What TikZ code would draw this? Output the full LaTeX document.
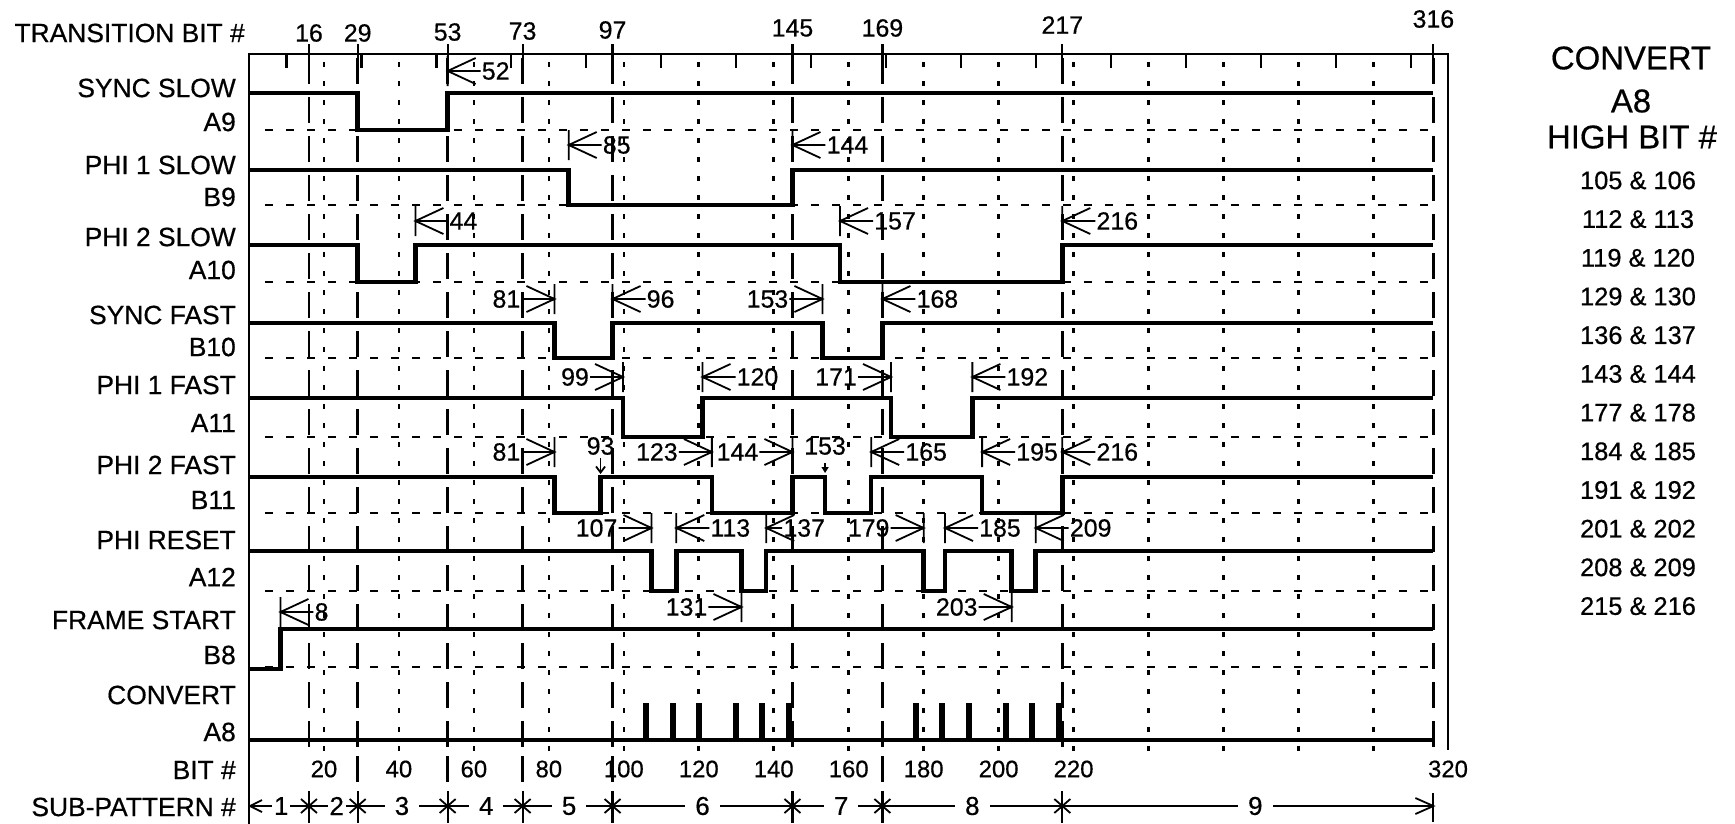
\documentclass[tikz,border=0pt]{standalone}
\usepackage{fontspec}
\setmainfont{Liberation Sans}[FakeBold=0.5]
\usetikzlibrary{arrows.meta}
\pgfmathdeclarefunction{bx}{1}{\pgfmathparse{249+3.748*#1}}
\newcounter{annc}
\tikzset{
  sig/.style={line width=4.5bp},
  frm/.style={line width=2.2bp},
  lowref/.style={line width=2.4bp, dash pattern=on 8bp off 13bp},
  gridtw/.style={line width=2.6bp, dash pattern=on 5bp off 14bp},
  trans/.style={line width=2.4bp, dash pattern=on 26bp off 13bp},
  ann/.style={line width=1.8bp},
  pulse/.style={line width=6bp},
  num/.style={font=\fontsize{25}{25}\selectfont, inner sep=0pt},
  lbl/.style={font=\fontsize{26.5}{28}\selectfont, inner sep=0pt, anchor=east},
  head/.style={font=\fontsize{33}{33}\selectfont, inner sep=0pt},
  hb/.style={font=\fontsize{25.5}{25.5}\selectfont, inner sep=0pt},
  spn/.style={font=\fontsize{26}{26}\selectfont, fill=white, inner ysep=0pt},
}
\newcommand\annL[4][33]{%
  \stepcounter{annc}%
  \pgfmathsetmacro\ax{bx(#2)}%
  \draw[ann] (\ax,#3-15) -- (\ax,#3+15) (\ax+28,#3-13) -- (\ax,#3) -- (\ax+28,#3+13) (\ax,#3) -- (\ax+#1,#3);
  \node[num,anchor=west] (ann\theannc) at (\ax+#1+1,#3) {#4};}
\newcommand\annR[4][33]{%
  \stepcounter{annc}%
  \pgfmathsetmacro\ax{bx(#2)}%
  \draw[ann] (\ax,#3-15) -- (\ax,#3+15) (\ax-28,#3-13) -- (\ax,#3) -- (\ax-28,#3+13) (\ax,#3) -- (\ax-#1,#3);
  \node[num,anchor=east] (ann\theannc) at (\ax-#1-1,#3) {#4};}
\begin{document}
\begin{tikzpicture}[x=1bp,y=-1bp]
\fill[white] (0,0) rectangle (1735,824);
\useasboundingbox (0,0) rectangle (1735,824);

% grid: dotted verticals every 20 bits
\foreach \b in {20,40,...,300} \draw[gridtw] ({bx(\b)},62) -- ({bx(\b)},758);
% low reference dashed lines
\foreach \y in {130,205,282,358,437,513,591,667} \draw[lowref] (265,\y) -- ({bx(316)},\y);
% transition long-dash lines
\foreach \b in {16,29,53,73,97,145,169,217,316} {
  \draw[frm] ({bx(\b)},44) -- ({bx(\b)},58);
  \draw[trans] ({bx(\b)},58) -- ({bx(\b)},752);
}
\foreach \b in {29,53,73,97,169} \draw[trans] ({bx(\b)},756) -- ({bx(\b)},782);
% top ticks
\foreach \b in {10,30,...,310} \draw[frm] ({bx(\b)},54) -- ({bx(\b)},68);
% frame
\draw[frm] (249,824) -- (249,54) -- (1448,54) -- (1448,750);

% top labels
\node[lbl] (ttl) at (245,33) {TRANSITION BIT \#};
\foreach \b/\yy in {16/33,29/33,53/32,73/31,97/30,145/28,169/28,217/25,316/19}
  \node[num] (tb\b) at ({bx(\b)},\yy) {\b};

% signal labels
\node[lbl] (l1a) at (236,88) {SYNC SLOW};   \node[lbl] (l1b) at (236,122) {A9};
\node[lbl] (l2a) at (236,165) {PHI 1 SLOW}; \node[lbl] (l2b) at (236,197) {B9};
\node[lbl] (l3a) at (236,237) {PHI 2 SLOW}; \node[lbl] (l3b) at (236,270) {A10};
\node[lbl] (l4a) at (236,315) {SYNC FAST};  \node[lbl] (l4b) at (236,347) {B10};
\node[lbl] (l5a) at (236,385) {PHI 1 FAST}; \node[lbl] (l5b) at (236,423) {A11};
\node[lbl] (l6a) at (236,465) {PHI 2 FAST}; \node[lbl] (l6b) at (236,500) {B11};
\node[lbl] (l7a) at (236,540) {PHI RESET};  \node[lbl] (l7b) at (236,577) {A12};
\node[lbl] (l8a) at (236,620) {FRAME START};\node[lbl] (l8b) at (236,655) {B8};
\node[lbl] (l9a) at (236,695) {CONVERT};    \node[lbl] (l9b) at (236,732) {A8};
\node[lbl] (l10) at (236,770) {BIT \#};
\node[lbl] (l11) at (236,807) {SUB-PATTERN \#};

% signals
\draw[sig] ({bx(0)},93) -| ({bx(29)},130) -| ({bx(53)},93) -- ({bx(316)},93);
\draw[sig] ({bx(0)},170) -| ({bx(85.3)},205) -| ({bx(145)},170) -- ({bx(316)},170);
\draw[sig] ({bx(0)},245) -| ({bx(29)},282) -| ({bx(44.4)},245) -| ({bx(157.7)},282) -| ({bx(217)},245) -- ({bx(316)},245);
\draw[sig] ({bx(0)},323) -| ({bx(81.5)},358) -| ({bx(97)},323) -| ({bx(153)},358) -| ({bx(169)},323) -- ({bx(316)},323);
\draw[sig] ({bx(0)},398) -| ({bx(99.8)},437) -| ({bx(121)},398) -| ({bx(171.3)},437) -| ({bx(193)},398) -- ({bx(316)},398);
\draw[sig] ({bx(0)},477) -| ({bx(81.5)},513) -| ({bx(93.8)},477) -| ({bx(123.5)},513) -| ({bx(145)},477) -| ({bx(153.7)},513) -| ({bx(166)},477) -| ({bx(195.6)},513) -| ({bx(217)},477) -- ({bx(316)},477);
\draw[sig] ({bx(0)},551) -| ({bx(107.4)},591) -| ({bx(114)},551) -| ({bx(131.4)},591) -| ({bx(138)},551) -| ({bx(180)},591) -| ({bx(185.7)},551) -| ({bx(203.5)},591) -| ({bx(209.9)},551) -- ({bx(316)},551);
\draw[sig] ({bx(0)},669) -| ({bx(8.4)},629) -- ({bx(316)},629);
\draw[sig] ({bx(0)},740) -- ({bx(316)},740);
\foreach \b in {106,113,120,130,137,144,178,185,192,202,209,216}
  \draw[pulse] ({bx(\b)},741) -- ({bx(\b)},703);

% annotations
\annL{53}{71}{52}
\annL{85.3}{145}{85}
\annL{145}{145}{144}
\annL{44.4}{221}{44}
\annL{157.7}{221}{157}
\annL{217}{221}{216}
\annR{81.5}{299}{81}
\annL{97}{299}{96}
\annR{153}{299}{153}
\annL{169}{299}{168}
\annR{99.8}{377}{99}
\annL{121}{377}{120}
\annR{171.3}{377}{171}
\annL{193}{377}{192}
\annR{81.5}{452}{81}
\annR{123.5}{452}{123}
\annR{145}{452}{144}
\annL{166}{452}{165}
\annL{195.6}{452}{195}
\annL{217}{452}{216}
\annR{107.4}{528}{107}
\annL{114}{528}{113}
\annL[16]{138}{528}{137}
\annR{180}{528}{179}
\annL{185.7}{528}{185}
\annL{209.9}{528}{209}
\annR{131.4}{607}{131}
\annR{203.5}{607}{203}
\annL{8.4}{612}{8}
\node[num] (n93) at ({bx(93.8)},446) {93};
\draw[ann,-{Straight Barb[length=6bp,width=9bp]}] (n93.south) ++(0,3) coordinate (n93s) -- ({bx(93.8)},474);
\node[num] (n153) at ({bx(153.7)},446) {153};
\draw[ann,-{Triangle[length=6bp,width=7bp]}] (n153.south) ++(0,8) coordinate (n153s) -- ({bx(153.7)},473);

% bit # row
\foreach \b in {20,40,...,220} \node[num,font=\fontsize{24}{24}\selectfont] (bit\b) at ({bx(\b)},769) {\b};
\node[num,font=\fontsize{24}{24}\selectfont] (bit320) at (1448,769) {320};

% sub-pattern row
\draw[ann] (249,806) -- ({bx(316)},806);
\draw[ann] (262,800) -- (250,806) -- (262,812);
\draw[ann] ({bx(316)-18},798) -- ({bx(316)},806) -- ({bx(316)-18},814);
\draw[frm] ({bx(316)},793) -- ({bx(316)},822);
\foreach \b in {16,29,53,73,97,145,169,217} {
  \draw[frm] ({bx(\b)},791) -- ({bx(\b)},823);
  \draw[ann] ({bx(\b)-8},799) -- ({bx(\b)+8},813);
  \draw[ann] ({bx(\b)-8},813) -- ({bx(\b)+8},799);
}
\node[spn,inner xsep=2bp] (sp1) at ({bx(8.6)},806) {1};
\node[spn,inner xsep=2bp] (sp2) at ({bx(23.4)},806) {2};
\foreach \n/\b in {3/40.8,4/63.3,5/85.4,6/121,7/158,8/193,9/268.5}
  \node[spn,inner xsep=10bp] (sp\n) at ({bx(\b)},806) {\n};

% right block
\node[head] (cvt) at (1631,58) {CONVERT};
\node[head] (cva) at (1631,101) {A8};
\node[head] (cvh) at (1632,137) {HIGH BIT \#};
\foreach \t [count=\i from 0] in {105 \& 106,112 \& 113,119 \& 120,129 \& 130,136 \& 137,143 \& 144,177 \& 178,184 \& 185,191 \& 192,201 \& 202,208 \& 209,215 \& 216}
  \node[hb] (hb\i) at (1638,{180.4+38.7*\i}) {\t};
\end{tikzpicture}
\end{document}
